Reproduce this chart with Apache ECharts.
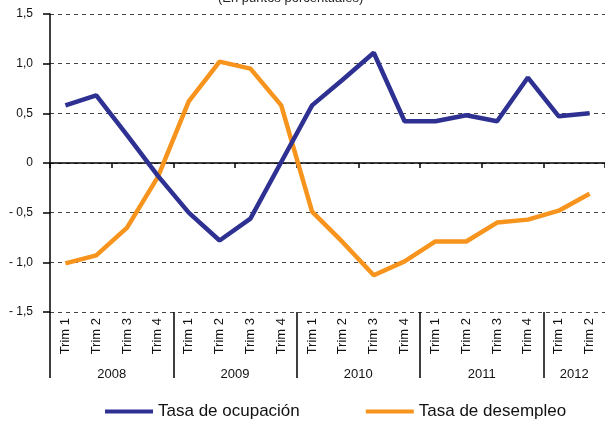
<!DOCTYPE html>
<html>
<head>
<meta charset="utf-8">
<script src="https://cdn.jsdelivr.net/npm/echarts@6/dist/echarts.min.js"></script>
<style>
  html, body { margin: 0; padding: 0; background: #fff; }
  #chart { width: 605px; height: 425px; }
</style>
</head>
<body>
<div id="chart"></div>
<script>
// datos
const years = ['2008', '2009', '2010', '2011', '2012'];
const quartersPerYear = [4, 4, 4, 4, 2];
const quarters = [];
years.forEach((y, i) => {
  for (let q = 1; q <= quartersPerYear[i]; q++) quarters.push('Trim ' + q);
});
const tasaOcupacion = [0.58, 0.68, 0.28, -0.13, -0.5, -0.78, -0.56, 0.01, 0.58, 0.84, 1.11, 0.42, 0.42, 0.48, 0.42, 0.86, 0.47, 0.5];
const tasaDesempleo = [-1.01, -0.93, -0.65, -0.14, 0.62, 1.02, 0.95, 0.58, -0.49, -0.8, -1.13, -0.99, -0.79, -0.79, -0.6, -0.57, -0.48, -0.31];

// posiciones de separadores y etiquetas de año (en unidades de trimestre)
const yearBounds = [];
const yearCenters = [];
let acc = 0;
quartersPerYear.forEach(n => {
  yearBounds.push(acc);
  yearCenters.push(acc + n / 2);
  acc += n;
});

const chart = echarts.init(document.getElementById('chart'));
const fmtY = v => {
  if (v === 0) return '0';
  const s = Math.abs(v).toFixed(1).replace('.', ',');
  return v < 0 ? '- ' + s : s;
};

const option = {
  animation: false,
  textStyle: { fontFamily: 'Arial, "Liberation Sans", sans-serif' },
  title: {
    text: '(En puntos porcentuales)',
    left: 213,
    top: -13,
    textStyle: { fontSize: 13, fontWeight: 'normal', color: '#222' }
  },
  legend: {
    bottom: 0,
    left: 100,
    itemWidth: 48,
    itemHeight: 4,
    itemGap: 66,
    icon: 'rect',
    textStyle: { fontSize: 17, color: '#111' },
    data: ['Tasa de ocupación', 'Tasa de desempleo']
  },
  grid: { left: 50, right: -3, top: 14, bottom: 113 },
  xAxis: [
    {
      type: 'category',
      data: quarters,
      boundaryGap: true,
      axisLine: { onZero: true, lineStyle: { color: '#000', width: 1.5 } },
      axisTick: { show: true, length: 5, lineStyle: { color: '#000', width: 1.5 } },
      axisLabel: { show: false }
    },
    {
      type: 'category',
      data: quarters,
      position: 'bottom',
      boundaryGap: true,
      axisLine: { show: false, onZero: false },
      axisTick: { show: false },
      axisLabel: { rotate: 90, margin: 6, fontSize: 13, color: '#111' }
    },
    {
      type: 'value',
      min: 0,
      max: quarters.length,
      position: 'bottom',
      axisLine: { show: false, onZero: false },
      splitLine: { show: false },
      axisTick: {
        show: true,
        customValues: yearBounds,
        length: 66,
        lineStyle: { color: '#000', width: 1.5 }
      },
      axisLabel: {
        customValues: yearCenters,
        margin: 56,
        fontSize: 13,
        color: '#111',
        formatter: v => years[yearCenters.indexOf(v)]
      }
    }
  ],
  yAxis: {
    type: 'value',
    min: -1.5,
    max: 1.5,
    interval: 0.5,
    axisLine: { show: true, onZero: false, lineStyle: { color: '#000', width: 1.5 } },
    axisTick: { show: true, length: 7, lineStyle: { color: '#000', width: 1.5 } },
    axisLabel: { margin: 17, fontSize: 12, color: '#111', formatter: fmtY },
    splitLine: { show: true, lineStyle: { color: '#444', type: [4, 4], width: 1 } }
  },
  series: [
    {
      name: 'Tasa de ocupación',
      type: 'line',
      data: tasaOcupacion,
      symbol: 'none',
      lineStyle: { color: '#2E3192', width: 4.5 },
      itemStyle: { color: '#2E3192' },
      z: 3
    },
    {
      name: 'Tasa de desempleo',
      type: 'line',
      data: tasaDesempleo,
      symbol: 'none',
      lineStyle: { color: '#F7941D', width: 4.5 },
      itemStyle: { color: '#F7941D' },
      z: 2
    }
  ]
};
chart.setOption(option);
</script>
</body>
</html>
